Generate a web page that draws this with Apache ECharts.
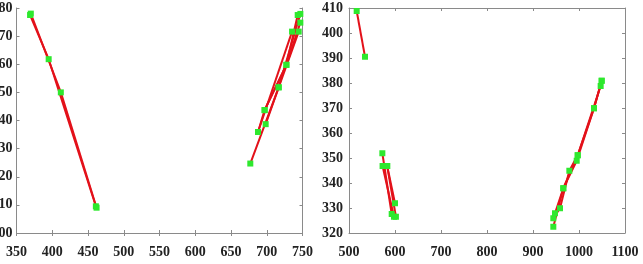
<!DOCTYPE html>
<html><head><meta charset="utf-8">
<script src="https://cdn.jsdelivr.net/npm/echarts@6/dist/echarts.min.js"></script>
<style>html,body{margin:0;padding:0;background:#fff}#c{width:643px;height:264px}</style>
</head><body><div id="c"></div>
<script>
// Left panel axis ticks
const leftXTicks = [350, 400, 450, 500, 550, 600, 650, 700, 750];
const leftYTicks = [0, 10, 20, 30, 40, 50, 60, 70, 80];
// Right panel axis ticks
const rightXTicks = [500, 600, 700, 800, 900, 1000, 1100];
const rightYTicks = [320, 330, 340, 350, 360, 370, 380, 390, 400, 410];

// Left panel tracks [x, y]
const leftTrack1a = [[369, 77.5], [395, 61.8], [461, 9.5]];
const leftTrack1b = [[370, 78], [412, 50], [462, 9]];
const leftTrack2a = [[677, 24.7], [716.7, 51.8], [747, 77.9]];
const leftTrack2b = [[687.8, 35.9], [697, 43.7], [727.5, 59.8], [743.3, 77.5]];
const leftTrack2c = [[698.5, 38.7], [716.7, 51.8], [744.7, 71.6]];
const leftTrack2d = [[697, 43.7], [727.5, 59.8], [747, 74.8]];
const leftTrack2e = [[687.8, 35.9], [735.4, 71.6]];

// Right panel tracks [x, y]
const rightTrack1 = [[516.7, 408.8], [534.8, 390.5]];
const rightTrack2a = [[572.5, 351.9], [592.8, 327.6]];
const rightTrack2b = [[573, 346.8], [597.8, 326.5]];
const rightTrack2c = [[583, 346.8], [600, 331.9]];
const rightTrack2d = [[583, 346.8], [602, 326.5]];
const rightTrack3a = [[944.2, 322.5], [965.9, 337.9], [995, 348.9], [1032.6, 369.9], [1049.3, 380.9]];
const rightTrack3b = [[944.2, 325.9], [958.7, 329.9], [979, 344.9], [997.2, 351.1], [1047.1, 378.8]];
const rightTrack3c = [[947.8, 327.9], [965.9, 337.9], [997.2, 351.1], [1032.6, 369.9], [1049.3, 380.9]];

const leftTracks = [leftTrack1a, leftTrack1b, leftTrack2a, leftTrack2b, leftTrack2c, leftTrack2d, leftTrack2e];
const rightTracks = [rightTrack1, rightTrack2a, rightTrack2b, rightTrack2c, rightTrack2d, rightTrack3a, rightTrack3b, rightTrack3c];

const FONT = {fontFamily: 'Liberation Serif', fontSize: 14, fontWeight: 'bold', color: '#222'};
const AX = '#8a8a8a';

function xAxes(ticks, gi, step) {
  const min = ticks[0], max = ticks[ticks.length - 1];
  const base = {type: 'value', gridIndex: gi, min, max, interval: step,
    axisLine: {show: true, lineStyle: {color: AX}}, splitLine: {show: false},
    axisTick: {show: true, inside: true, length: 3, lineStyle: {color: AX}}};
  return [
    Object.assign({}, base, {position: 'bottom', axisLabel: Object.assign({margin: 12, formatter: v => String(v), showMinLabel: true, showMaxLabel: true}, FONT)}),
    Object.assign({}, base, {position: 'top', axisLabel: {show: false}})
  ];
}
function yAxes(ticks, gi, step, fmt, margin) {
  const min = ticks[0], max = ticks[ticks.length - 1];
  const base = {type: 'value', gridIndex: gi, min, max, interval: step,
    axisLine: {show: true, lineStyle: {color: AX}}, splitLine: {show: false},
    axisTick: {show: true, inside: true, length: 3, lineStyle: {color: AX}}};
  return [
    Object.assign({}, base, {position: 'left', axisLabel: Object.assign({margin, formatter: fmt, showMinLabel: true, showMaxLabel: true}, FONT)}),
    Object.assign({}, base, {position: 'right', axisLabel: {show: false}})
  ];
}

const xs = xAxes(leftXTicks, 0, 50).concat(xAxes(rightXTicks, 1, 100));
const ys = yAxes(leftYTicks, 0, 10, v => String(v).padStart(2, '0'), 4).concat(yAxes(rightYTicks, 1, 10, v => String(v), 6));

function mk(data, xi, yi) {
  return {type: 'line', data, xAxisIndex: xi, yAxisIndex: yi, animation: false,
    lineStyle: {color: '#e3111a', width: 2}, symbol: 'rect', symbolSize: 6,
    itemStyle: {color: '#2ee82e'}, z: 3};
}
const series = [];
leftTracks.forEach(t => series.push(mk(t, 0, 0)));
rightTracks.forEach(t => series.push(mk(t, 2, 2)));

const chart = echarts.init(document.getElementById('c'), null, {renderer: 'canvas'});
chart.setOption({
  animation: false,
  grid: [
    {left: 16.5, top: 8, width: 286, height: 225, containLabel: false, outerBoundsMode: 'none'},
    {left: 349, top: 8, width: 276, height: 225, containLabel: false, outerBoundsMode: 'none'}
  ],
  xAxis: xs,
  yAxis: ys,
  series
});
</script></body></html>
